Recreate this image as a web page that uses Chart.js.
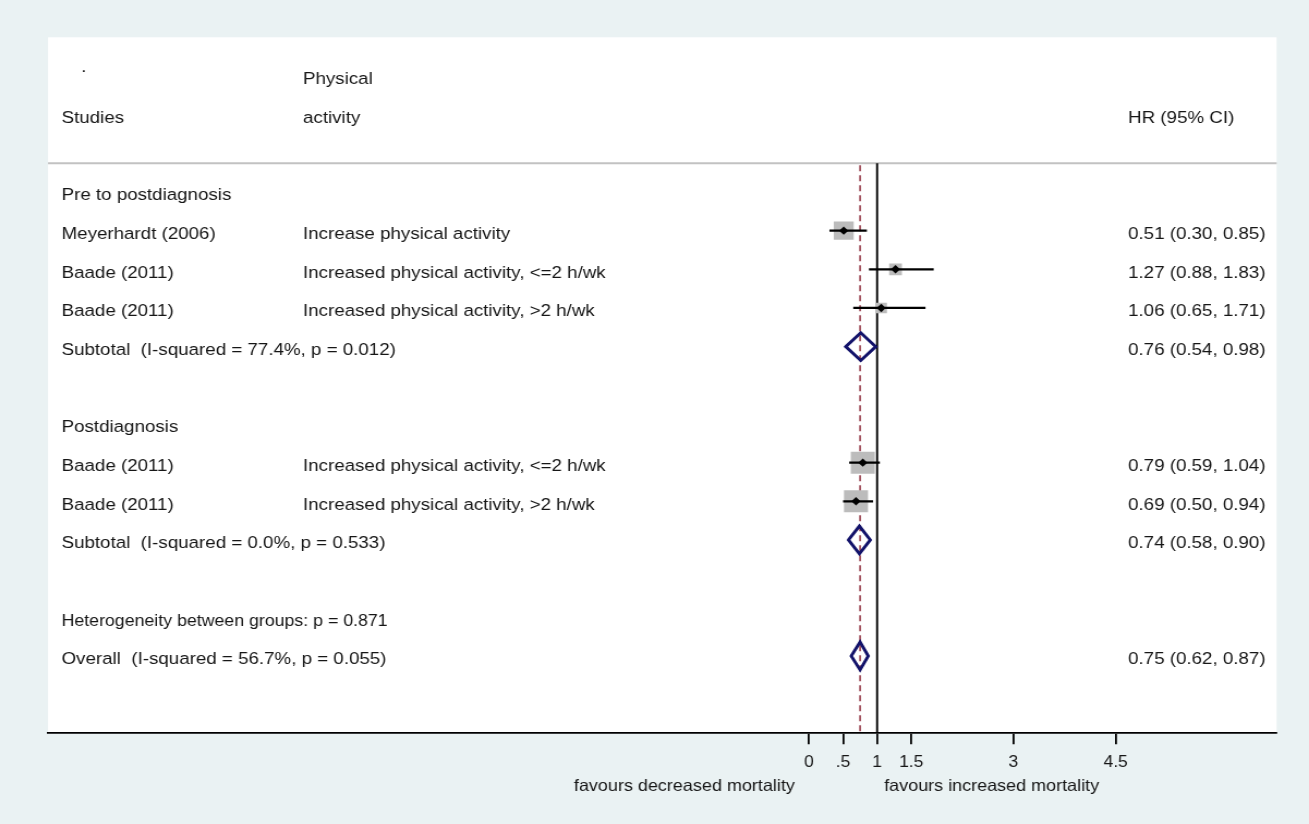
<!DOCTYPE html>
<html>
<head>
<meta charset="utf-8">
<title>Physical activity and mortality – forest plot</title>
<script src="https://cdn.jsdelivr.net/npm/chart.js@4.4.1/dist/chart.umd.min.js"></script>
<style>
  html, body { margin: 0; padding: 0; background: #EAF2F3; overflow: hidden; }
  #wrap {
    position: relative;
    width: 1201px;
    height: 824px;
    transform: scaleX(1.08993);
    transform-origin: 0 0;
  }
</style>
</head>
<body>
<div id="wrap"><canvas id="forest"></canvas></div>
<script>
// ---- Data -------------------------------------------------------------
const groupHeadings = ['Pre to postdiagnosis', 'Postdiagnosis'];
const groupRows = [0, 6];

const studyLabels = ['Meyerhardt (2006)', 'Baade (2011)', 'Baade (2011)', 'Baade (2011)', 'Baade (2011)'];
const activityLabels = [
  'Increase physical activity',
  'Increased physical activity, <=2 h/wk',
  'Increased physical activity, >2 h/wk',
  'Increased physical activity, <=2 h/wk',
  'Increased physical activity, >2 h/wk'
];
const studyRows = [1, 2, 3, 7, 8];
const studyHR = [0.51, 1.27, 1.06, 0.79, 0.69];
const studyLow = [0.30, 0.88, 0.65, 0.59, 0.50];
const studyHigh = [0.85, 1.83, 1.71, 1.04, 0.94];
const studyWeight = [21.6, 8.8, 7.1, 31.2, 31.2]; // % weight, sets box area

const pooledLabels = [
  'Subtotal  (I-squared = 77.4%, p = 0.012)',
  'Subtotal  (I-squared = 0.0%, p = 0.533)',
  'Overall  (I-squared = 56.7%, p = 0.055)'
];
const pooledRows = [4, 9, 12];
const pooledHR = [0.76, 0.74, 0.75];
const pooledLow = [0.54, 0.58, 0.62];
const pooledHigh = [0.98, 0.90, 0.87];

const heterogeneityNote = 'Heterogeneity between groups: p = 0.871';
const heterogeneityRow = 11;

const tickValues = [0, 0.5, 1, 1.5, 3, 4.5];
const tickLabels = ['0', '.5', '1', '1.5', '3', '4.5'];

const nullValue = 1;
const axisNoteLeft = 'favours decreased mortality';
const axisNoteRight = 'favours increased mortality';

// ---- Layout / style ---------------------------------------------------
const FONT = "'Liberation Sans', Arial, Helvetica, sans-serif";
const TEXT_COLOR = '#161616';
const ROW_MIN = -4, ROW_MAX = 14;
const HEADER_RULE_ROW = -0.74;
const X_MIN = -11.165, X_MAX = 6.862;
const COL_STUDY = 56.5, COL_ACTIVITY = 278, COL_HR = 1035;
const BASELINE_SHIFT = 8.2;
const BODY_SIZE = 17.2;

const fmt = v => v.toFixed(2);
const ciText = (e, l, h) => `${fmt(e)} (${fmt(l)}, ${fmt(h)})`;

// ---- Datasets -----------------------------------------------------------
const datasets = [];

// reference lines: null effect and overall pooled estimate
datasets.push({
  data: [{x: nullValue, y: HEADER_RULE_ROW}, {x: nullValue, y: ROW_MAX}],
  showLine: true, borderColor: '#000', borderWidth: 1.9, pointRadius: 0, order: 10
});
datasets.push({
  data: [{x: pooledHR[2], y: HEADER_RULE_ROW + 0.05}, {x: pooledHR[2], y: ROW_MAX}],
  showLine: true, borderColor: '#983f4d', borderWidth: 1.6, borderDash: [6, 4],
  pointRadius: 0, order: 9
});

// weight boxes
datasets.push({
  data: studyHR.map((v, i) => ({x: v, y: studyRows[i]})),
  showLine: false,
  pointStyle: 'rect',
  pointRadius: studyWeight.map(w => (3.94 * Math.sqrt(w)) / Math.SQRT2),
  pointBackgroundColor: '#bcbcbc',
  pointBorderWidth: 0,
  pointBorderColor: 'rgba(0,0,0,0)',
  order: 5
});

// confidence intervals
studyHR.forEach((v, i) => {
  datasets.push({
    data: [{x: studyLow[i], y: studyRows[i]}, {x: studyHigh[i], y: studyRows[i]}],
    showLine: true, borderColor: '#000', borderWidth: 2.2, pointRadius: 0, order: 3
  });
});

// point estimates
datasets.push({
  data: studyHR.map((v, i) => ({x: v, y: studyRows[i]})),
  showLine: false,
  pointStyle: 'rectRot',
  pointRadius: 4.2,
  pointBackgroundColor: '#000',
  pointBorderWidth: 0,
  order: 2
});

// pooled diamonds
const HALF_H = 0.36;
pooledHR.forEach((v, i) => {
  const r = pooledRows[i];
  datasets.push({
    data: [
      {x: pooledLow[i], y: r}, {x: v, y: r - HALF_H}, {x: pooledHigh[i], y: r},
      {x: v, y: r + HALF_H}, {x: pooledLow[i], y: r}, {x: v, y: r - HALF_H}
    ],
    showLine: true, borderColor: '#12126a', borderWidth: 2.9,
    borderJoinStyle: 'miter', pointRadius: 0, tension: 0, order: 1
  });
});

// ---- Text columns, panel and header rule ------------------------------
function put(ctx, text, x, y, size, align) {
  ctx.font = `${size}px ${FONT}`;
  ctx.textAlign = align || 'left';
  ctx.textBaseline = 'alphabetic';
  ctx.fillText(text, x, y);
}

const forestDecor = {
  id: 'forestDecor',
  beforeDraw(chart) {
    const {ctx, chartArea: a, width, height} = chart;
    ctx.save();
    ctx.fillStyle = '#EAF2F3';
    ctx.fillRect(0, 0, width, height);
    ctx.fillStyle = '#ffffff';
    ctx.fillRect(a.left, a.top, a.right - a.left, a.bottom - a.top);
    const yr = chart.scales.y.getPixelForValue(HEADER_RULE_ROW);
    ctx.strokeStyle = '#c2c2c2';
    ctx.lineWidth = 2;
    ctx.beginPath();
    ctx.moveTo(a.left, yr);
    ctx.lineTo(a.right, yr);
    ctx.stroke();
    ctx.restore();
  },
  afterDraw(chart) {
    const {ctx} = chart;
    const ys = chart.scales.y, xs = chart.scales.x;
    const rowY = r => ys.getPixelForValue(r) + BASELINE_SHIFT;
    ctx.save();
    ctx.fillStyle = TEXT_COLOR;

    // column headings
    put(ctx, '.', 74.5, 72, BODY_SIZE);
    put(ctx, 'Physical', COL_ACTIVITY, rowY(-3), BODY_SIZE);
    put(ctx, 'Studies', COL_STUDY, rowY(-2), BODY_SIZE);
    put(ctx, 'activity', COL_ACTIVITY, rowY(-2), BODY_SIZE);
    put(ctx, 'HR (95% CI)', COL_HR, rowY(-2), BODY_SIZE);

    groupHeadings.forEach((t, i) => put(ctx, t, COL_STUDY, rowY(groupRows[i]), BODY_SIZE));

    studyLabels.forEach((t, i) => {
      const y = rowY(studyRows[i]);
      put(ctx, t, COL_STUDY, y, BODY_SIZE);
      put(ctx, activityLabels[i], COL_ACTIVITY, y, BODY_SIZE);
      put(ctx, ciText(studyHR[i], studyLow[i], studyHigh[i]), COL_HR, y, BODY_SIZE);
    });

    pooledLabels.forEach((t, i) => {
      const y = rowY(pooledRows[i]);
      put(ctx, t, COL_STUDY, y, BODY_SIZE);
      put(ctx, ciText(pooledHR[i], pooledLow[i], pooledHigh[i]), COL_HR, y, BODY_SIZE);
    });

    put(ctx, heterogeneityNote, COL_STUDY, rowY(heterogeneityRow), 16.3);

    // notes under the axis
    const x1 = xs.getPixelForValue(nullValue);
    put(ctx, axisNoteLeft, x1 - 75.5, 790.7, 16.5, 'right');
    put(ctx, axisNoteRight, x1 + 6.5, 790.7, 16.5, 'left');
    ctx.restore();
  }
};

// ---- Chart ------------------------------------------------------------------
new Chart(document.getElementById('forest'), {
  type: 'scatter',
  data: {datasets},
  options: {
    responsive: true,
    maintainAspectRatio: false,
    animation: false,
    events: [],
    layout: {padding: {left: 44.04, right: 29.7, top: 37.3, bottom: 0}},
    plugins: {legend: {display: false}, tooltip: {enabled: false}},
    scales: {
      x: {
        type: 'linear',
        min: X_MIN,
        max: X_MAX,
        afterBuildTicks: s => { s.ticks = tickValues.map(v => ({value: v})); },
        afterFit: s => { s.height = 824 - 733.3; },
        ticks: {
          autoSkip: false,
          maxRotation: 0,
          padding: 9,
          color: TEXT_COLOR,
          font: {family: FONT, size: 16},
          callback: v => {
            const k = tickValues.indexOf(v);
            return k >= 0 ? tickLabels[k] : '';
          }
        },
        grid: {
          display: true,
          drawOnChartArea: false,
          drawTicks: true,
          tickLength: 11,
          color: '#000',
          lineWidth: 1.8
        },
        border: {display: true, color: '#000', width: 1.7}
      },
      y: {
        type: 'linear',
        min: ROW_MIN,
        max: ROW_MAX,
        reverse: true,
        display: false
      }
    }
  },
  plugins: [forestDecor]
});
</script>
</body>
</html>
